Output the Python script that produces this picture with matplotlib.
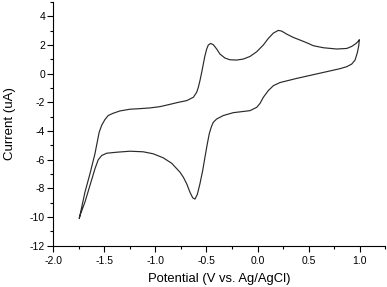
import matplotlib
from matplotlib import pyplot as plt
from matplotlib.ticker import MultipleLocator, FormatStrFormatter

matplotlib.use('Agg')

# Cyclic voltammogram (scan order: forward, then back)
potential = [-1.747, -1.733, -1.691, -1.642, -1.593, -1.552, -1.527, -1.495,
             -1.463, -1.414, -1.348, -1.25, -1.152, -1.054, -0.956, -0.858,
             -0.776, -0.694, -0.629, -0.596, -0.580, -0.564, -0.547, -0.531,
             -0.515, -0.498, -0.482, -0.459, -0.433, -0.40, -0.368, -0.319,
             -0.270, -0.204, -0.139, -0.074, -0.008, 0.057, 0.106, 0.155,
             0.204, 0.237, 0.286, 0.351, 0.433, 0.498, 0.547, 0.645, 0.776,
             0.875, 0.923, 0.966, 0.992, 0.998,
             0.992, 0.979, 0.956, 0.923, 0.875, 0.809, 0.678, 0.547, 0.384,
             0.22, 0.155, 0.106, 0.057, 0.025, -0.008, -0.074, -0.155,
             -0.237, -0.335, -0.40, -0.433, -0.452, -0.473, -0.492, -0.515,
             -0.537, -0.564, -0.590, -0.613, -0.635, -0.662, -0.694, -0.727,
             -0.76, -0.841, -0.924, -1.022, -1.120, -1.25, -1.380, -1.478,
             -1.527, -1.561, -1.593, -1.642, -1.691, -1.733, -1.745]
current = [-10.1, -9.66, -8.27, -6.99, -5.59, -4.1, -3.6, -3.2,
           -2.92, -2.76, -2.60, -2.48, -2.44, -2.39, -2.30, -2.14,
           -2.0, -1.88, -1.65, -1.30, -0.95, -0.49, 0.09, 0.67,
           1.25, 1.72, 2.0, 2.11, 2.02, 1.72, 1.37, 1.09,
           0.97, 0.95, 1.02, 1.20, 1.53, 2.0, 2.46, 2.83,
           3.02, 2.97, 2.76, 2.53, 2.30, 2.11, 1.95, 1.81, 1.72,
           1.76, 1.90, 2.11, 2.30, 2.37,
           1.95, 1.48, 0.95, 0.67, 0.49, 0.35, 0.14, -0.07, -0.33,
           -0.62, -0.84, -1.18, -1.65, -2.07, -2.35, -2.58, -2.65,
           -2.72, -2.92, -3.16, -3.39, -3.7, -4.20, -4.90, -5.83,
           -6.75, -7.68, -8.43, -8.75, -8.66, -8.27, -7.68, -7.22,
           -6.87, -6.25, -5.87, -5.59, -5.45, -5.41, -5.48, -5.55,
           -5.71, -6.01, -6.64, -7.80, -8.96, -9.77, -10.05]

plt.rcParams['font.family'] = ['Liberation Sans', 'DejaVu Sans']
plt.rcParams['axes.unicode_minus'] = False

fig = plt.figure(figsize=(3.87, 2.87), dpi=100)
ax = fig.add_axes([0.138, 0.144, 0.857, 0.849])

ax.plot(potential, current, color='#2a2a2a', lw=0.85)

ax.set_xlim(-2.0, 1.25)
ax.set_ylim(-12, 5)
ax.xaxis.set_major_locator(MultipleLocator(0.5))
ax.xaxis.set_minor_locator(MultipleLocator(0.25))
ax.yaxis.set_major_locator(MultipleLocator(2))
ax.yaxis.set_minor_locator(MultipleLocator(1))
ax.xaxis.set_major_formatter(FormatStrFormatter('%.1f'))

ax.spines['top'].set_visible(False)
ax.spines['right'].set_visible(False)
ax.tick_params(which='major', length=4, width=0.8, labelsize=7.5)
ax.tick_params(axis='x', which='major', pad=3.5)
ax.tick_params(axis='y', which='major', pad=2)
ax.tick_params(which='minor', length=2.5, width=0.8)

ax.set_xlabel('Potential (V vs. Ag/AgCl)', fontsize=9.4, labelpad=5)
ax.set_ylabel('Current (uA)', fontsize=9.5, labelpad=10)

fig.savefig('out.png', dpi=100)
